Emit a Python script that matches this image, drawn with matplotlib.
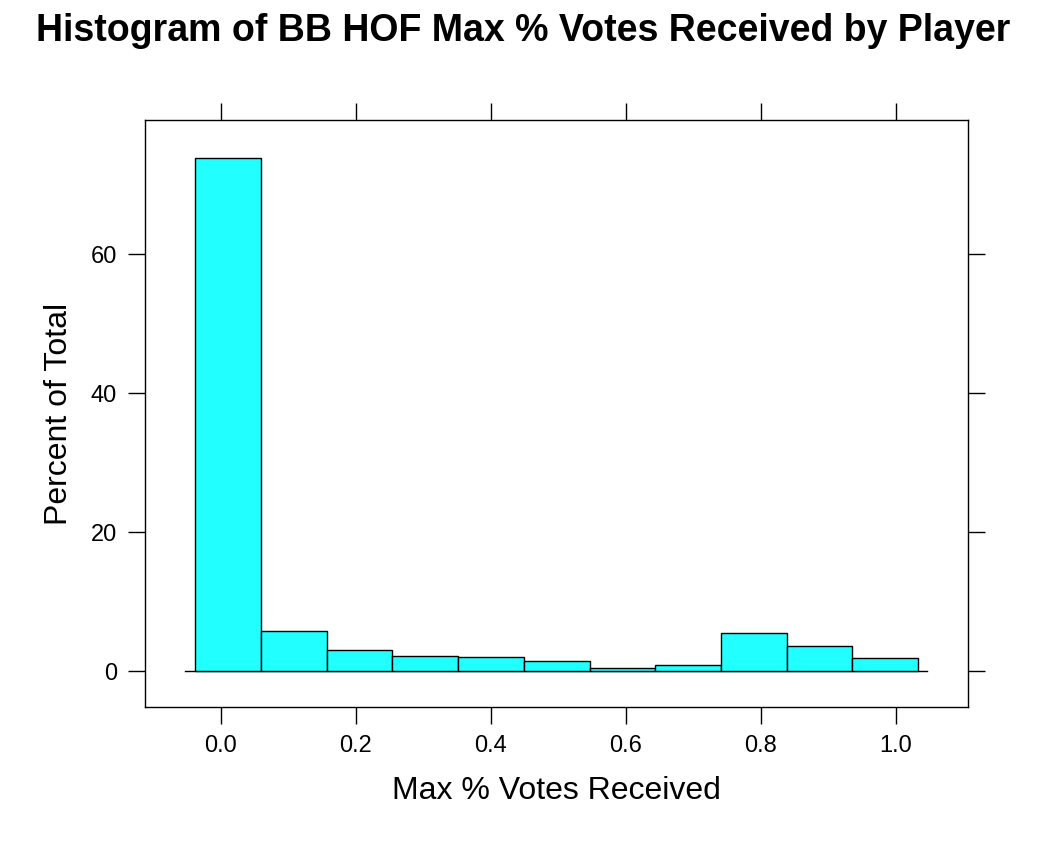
import numpy as np
import matplotlib
matplotlib.use("Agg")
import matplotlib.pyplot as plt

# bin edges and percent of total
EDGES = [-0.0385, 0.059, 0.157, 0.253, 0.351, 0.449, 0.547, 0.643, 0.741, 0.839, 0.935, 1.033]
PCT = [73.9, 5.8, 3.0, 2.1, 2.0, 1.4, 0.45, 0.85, 5.5, 3.6, 1.9]
XTICKS = [0.0, 0.2, 0.4, 0.6, 0.8, 1.0]
YTICKS = [0, 20, 40, 60]

plt.rcParams['font.family'] = ['Liberation Sans', 'DejaVu Sans']
fig = plt.figure(figsize=(10.46, 8.58), dpi=100)
ax = fig.add_axes([0.1386, 0.176, 0.7868, 0.6841])

edges = np.array(EDGES)
ax.bar(edges[:-1], PCT, width=np.diff(edges), align='edge',
       color='#22ffff', edgecolor='black', linewidth=1.0, zorder=3)
ax.plot([-0.053, 1.047], [0, 0], color='black', lw=1.0, zorder=2)

ax.set_xlim(-0.1126, 1.107)
ax.set_ylim(-5.18, 79.3)
ax.set_xticks(XTICKS)
ax.set_xticklabels([f"{v:.1f}" for v in XTICKS])
ax.set_yticks(YTICKS)
ax.tick_params(direction='out', length=12, width=1.0, labelsize=17,
               top=True, right=True, labeltop=False, labelright=False, pad=8)
for s in ax.spines.values():
    s.set_linewidth(1.0)
ax.set_xlabel('Max % Votes Received', fontsize=23, labelpad=14)
ax.set_ylabel('Percent of Total', fontsize=23, labelpad=12)
fig.suptitle('Histogram of BB HOF Max % Votes Received by Player',
             fontsize=27, fontweight='bold', y=0.985)
fig.savefig('out.png', dpi=100)
